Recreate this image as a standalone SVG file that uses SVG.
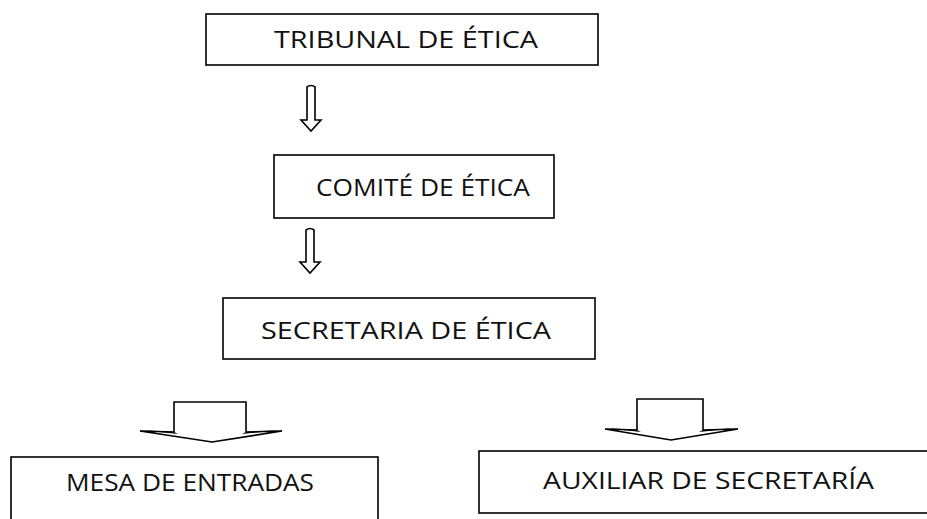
<svg xmlns="http://www.w3.org/2000/svg" width="927" height="519" viewBox="0 0 927 519">
<style>
.box{fill:#fff;stroke:#000;stroke-width:1.6}
.lbl{font-family:"Open Sans",Lato,"Liberation Sans",sans-serif;font-size:23px;fill:#111}
.arr{fill:#fff;stroke:#000;stroke-width:1.6;stroke-linejoin:miter}
.wing{fill:#000}
</style>
<rect width="927" height="519" fill="#fff"/>
<g id="connectors">
<path class="arr" d="M307,120 V87 Q311,84 315,87 V120 H321 L311,131 L301,120 Z"/>
<path class="arr" d="M306,262 V230 Q310,227 314,230 V262 H320 L310,273 L300,262 Z"/>
<path class="arr" d="M174,432 V402 H246 V432 L282,431 L212,442 L140,431 Z"/>
<path class="wing" d="M140,430 L174,432 L178,434 Z M282,430 L246,432 L242,434 Z"/>
<path class="arr" d="M637,430 V399 H703 V430 L738,429 L671,440 L605,429 Z"/>
<path class="wing" d="M605,428 L637,430 L641,432 Z M738,428 L703,430 L699,432 Z"/>
</g>
<g id="tribunal">
<rect class="box" x="206" y="14" width="392" height="51"/>
<text class="lbl" x="274" y="48" textLength="264" lengthAdjust="spacingAndGlyphs">TRIBUNAL DE ÉTICA</text>
</g>
<g id="comite">
<rect class="box" x="274" y="155" width="280" height="63"/>
<text class="lbl" x="316" y="196" textLength="214" lengthAdjust="spacingAndGlyphs">COMITÉ DE ÉTICA</text>
</g>
<g id="secretaria">
<rect class="box" x="223" y="298" width="372" height="61"/>
<text class="lbl" x="261" y="339" textLength="290" lengthAdjust="spacingAndGlyphs">SECRETARIA DE ÉTICA</text>
</g>
<g id="mesa">
<rect class="box" x="11" y="457" width="367" height="80"/>
<text class="lbl" x="66" y="491" textLength="248" lengthAdjust="spacingAndGlyphs">MESA DE ENTRADAS</text>
</g>
<g id="auxiliar">
<rect class="box" x="479" y="451" width="470" height="62"/>
<text class="lbl" x="543" y="489" textLength="331" lengthAdjust="spacingAndGlyphs">AUXILIAR DE SECRETARÍA</text>
</g>
</svg>
